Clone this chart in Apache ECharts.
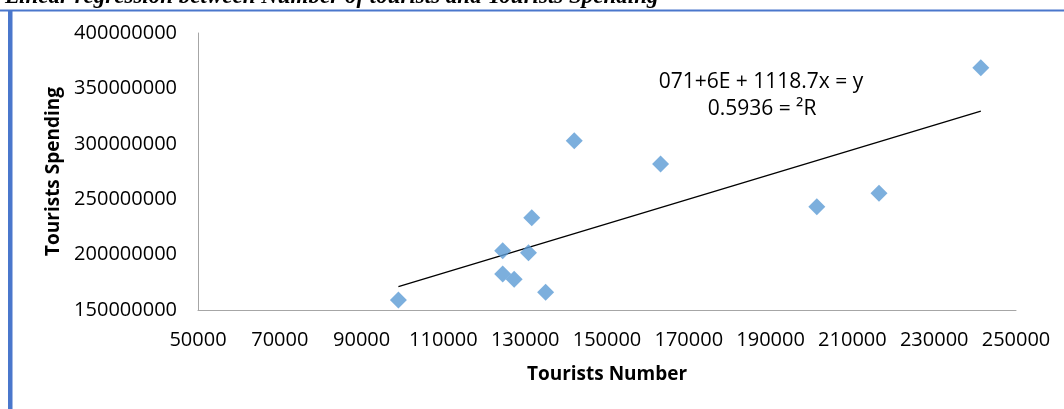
<!DOCTYPE html>
<html>
<head>
<meta charset="utf-8">
<script src="https://cdn.jsdelivr.net/npm/echarts@6/dist/echarts.min.js"></script>
<style>
html,body{margin:0;padding:0;background:#fff;}
#chart{width:1064px;height:409px;}
</style>
</head>
<body>
<div id="chart"></div>
<script>
// Data
var touristsNumber = [99000, 124500, 124500, 127300, 130800, 131600, 135000, 142000, 163100, 201300, 216500, 241400];
var touristsSpending = [159000000, 203500000, 182500000, 177700000, 201700000, 233300000, 166000000, 302800000, 281800000, 243200000, 255300000, 368700000];
var xTickLabels = [50000, 70000, 90000, 110000, 130000, 150000, 170000, 190000, 210000, 230000, 250000];
var yTickLabels = [150000000, 200000000, 250000000, 300000000, 350000000, 400000000];
var titleText = 'Linear regression between Number of tourists and Tourists Spending';
var equationText = '071+6E + 1118.7x = y';
var r2Text = '0.5936 = \u00B2R';

// Least-squares trendline from the data
var n = touristsNumber.length, sx = 0, sy = 0, sxx = 0, sxy = 0;
for (var i = 0; i < n; i++) {
  sx += touristsNumber[i]; sy += touristsSpending[i];
  sxx += touristsNumber[i] * touristsNumber[i];
  sxy += touristsNumber[i] * touristsSpending[i];
}
var slope = (n * sxy - sx * sy) / (n * sxx - sx * sx);
var intercept = (sy - slope * sx) / n;
var xMin = Math.min.apply(null, touristsNumber), xMax = Math.max.apply(null, touristsNumber);
var trend = [[xMin, intercept + slope * xMin], [xMax, intercept + slope * xMax]];

var points = touristsNumber.map(function (x, i) { return [x, touristsSpending[i]]; });

var chart = echarts.init(document.getElementById('chart'), null, {renderer: 'canvas'});
var font = '"Open Sans", sans-serif';
chart.setOption({
  animation: false,
  backgroundColor: '#ffffff',
  grid: {left: 198, right: 48, top: 33, bottom: 99, containLabel: false},
  xAxis: {
    type: 'value',
    min: xTickLabels[0], max: xTickLabels[xTickLabels.length - 1],
    interval: (xTickLabels[1] - xTickLabels[0]) / 2,
    name: 'Tourists Number',
    nameLocation: 'middle',
    nameGap: 55,
    nameTextStyle: {fontFamily: font, fontSize: 19, fontWeight: 'bold', color: '#000'},
    axisLine: {show: true, lineStyle: {color: '#a6a6a6', width: 1}},
    axisTick: {show: false},
    splitLine: {show: false},
    axisLabel: {
      margin: 20, fontFamily: font, fontSize: 20, color: '#000',
      formatter: function (v) { return xTickLabels.indexOf(v) >= 0 ? String(v) : ''; }
    }
  },
  yAxis: {
    type: 'value',
    min: yTickLabels[0], max: yTickLabels[yTickLabels.length - 1],
    interval: yTickLabels[1] - yTickLabels[0],
    name: 'Tourists Spending',
    nameLocation: 'middle',
    nameGap: 133,
    nameRotate: 90,
    nameTextStyle: {fontFamily: font, fontSize: 19, fontWeight: 'bold', color: '#000'},
    axisLine: {show: true, lineStyle: {color: '#a6a6a6', width: 1}},
    axisTick: {show: false},
    splitLine: {show: false},
    axisLabel: {margin: 21, fontFamily: font, fontSize: 20, color: '#000',
      formatter: function (v) { return String(v); }}
  },
  series: [
    {
      type: 'scatter',
      data: points,
      symbol: 'diamond',
      symbolSize: 17,
      itemStyle: {color: '#5b9bd5'},
      z: 3
    },
    {
      type: 'line',
      data: trend,
      showSymbol: false,
      symbol: 'none',
      lineStyle: {color: '#000', width: 1.3},
      z: 2
    }
  ],
  graphic: [
    {type: 'rect', shape: {x: 0, y: 9.5, width: 1064, height: 2}, style: {fill: '#4a77cc'}},
    {type: 'rect', shape: {x: 8, y: 10, width: 4.5, height: 400}, style: {fill: '#4a77cc'}},
    {type: 'text', x: 5, y: -3, style: {text: titleText, font: 'italic bold 23px "Liberation Serif", serif', fill: '#000', verticalAlign: 'middle', align: 'left'}},
    {type: 'text', x: 761, y: 82, style: {text: equationText, font: '21px "Open Sans", sans-serif', fill: '#000', align: 'center', verticalAlign: 'middle'}},
    {type: 'text', x: 762, y: 109, style: {text: r2Text, font: '21px "Open Sans", sans-serif', fill: '#000', align: 'center', verticalAlign: 'middle'}}
  ]
});
</script>
</body>
</html>
